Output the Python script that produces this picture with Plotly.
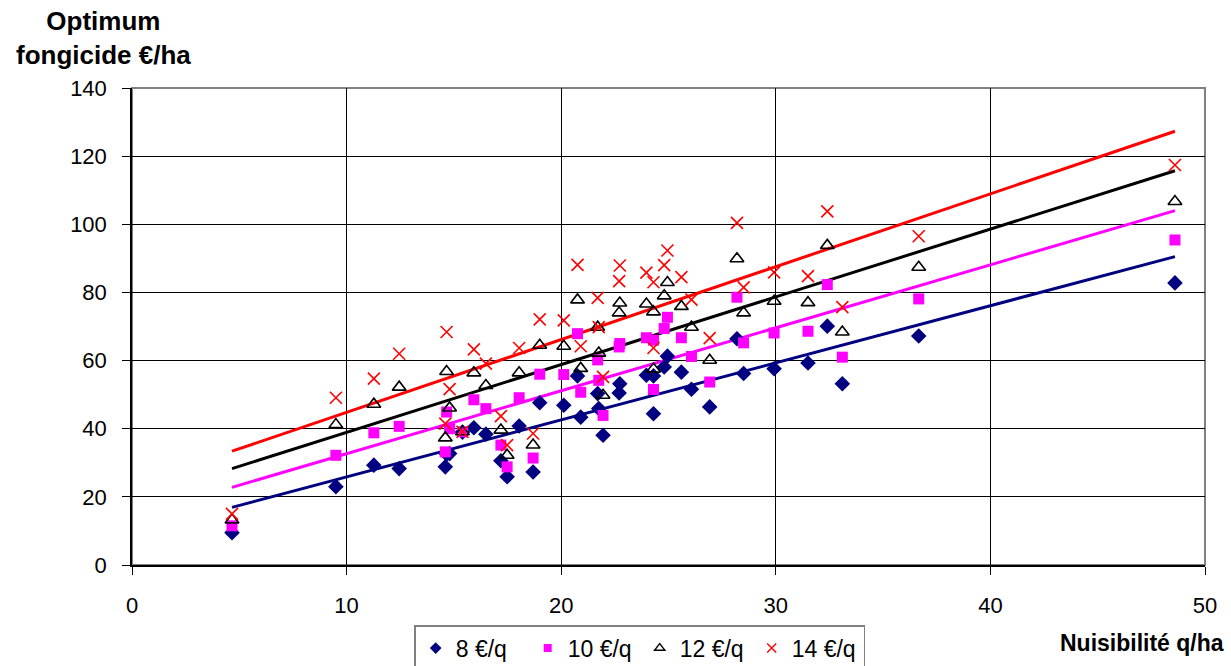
import plotly.graph_objects as go

# Nuisibilité (q/ha) for each observation
nuisibilite = [4.66, 9.5, 11.27, 12.45, 14.66, 14.8, 14.6, 15.4, 15.93, 16.49,
               17.19, 17.48, 18.04, 18.69, 19.0, 20.12, 20.76, 20.91, 21.7, 21.75,
               21.95, 22.73, 22.7, 23.97, 24.3, 24.3, 24.95, 24.8, 25.6, 26.07,
               26.92, 28.19, 28.5, 29.92, 31.5, 32.4, 33.1, 36.66, 48.6]

opt_8 = [9.5, 23.0, 29.3, 28.3, 32.5, 32.7, 28.8, 39.0, 40.3, 38.4,
         30.6, 25.9, 40.8, 27.3, 47.6, 46.9, 55.5, 43.4, 50.3, 45.9,
         38.1, 53.2, 50.5, 55.7, 55.5, 44.4, 61.3, 58.1, 56.6, 51.6,
         46.4, 66.4, 56.2, 57.6, 59.3, 70.1, 53.2, 67.2, 82.8]

opt_10 = [11.5, 32.2, 38.8, 40.7, 44.9, 40.0, 33.2, 39.1, 48.5, 45.9,
          35.2, 28.8, 49.1, 31.4, 56.0, 55.9, 67.9, 50.7, 60.2, 54.2,
          43.9, 65.0, 64.0, 66.7, 66.0, 51.5, 72.7, 69.4, 66.7, 61.2,
          53.7, 78.6, 65.2, 68.1, 68.6, 82.3, 61.0, 78.1, 95.4]

opt_12 = [13.2, 41.2, 47.2, 52.2, 56.8, 46.1, 37.3, 39.1, 56.4, 52.7,
          39.6, 32.2, 56.4, 35.2, 64.5, 64.2, 77.8, 57.7, 69.8, 62.2,
          49.8, 76.9, 74.0, 76.6, 74.3, 57.5, 82.9, 79.0, 75.9, 69.8,
          60.1, 89.9, 74.0, 77.4, 77.0, 93.8, 68.4, 87.4, 106.7]

opt_14 = [15.0, 49.1, 54.7, 62.0, 68.4, 51.6, 41.5, 39.1, 63.3, 59.1,
          43.7, 35.2, 63.7, 38.6, 72.1, 71.8, 88.1, 64.2, 78.4, 69.8,
          55.2, 87.9, 83.3, 85.8, 83.0, 63.7, 92.3, 88.0, 84.5, 77.9,
          66.6, 100.4, 81.5, 85.9, 84.8, 103.8, 75.7, 96.5, 117.4]

# Linear trendlines (start / end values)
trend_x = [4.66, 48.6]
trend_8 = [16.9, 90.5]
trend_10 = [22.8, 104.0]
trend_12 = [28.3, 115.7]
trend_14 = [33.4, 127.3]

series_names = ["8 €/q", "10 €/q", "12 €/q", "14 €/q"]

FONT = "Liberation Sans, Arial, sans-serif"
NAVY = "#000080"
MAGENTA = "#FF00FF"
BLACK = "#000000"
RED = "#FF0000"

fig = go.Figure()

# trendlines (drawn first, below markers)
for tv, col in [(trend_8, NAVY), (trend_10, MAGENTA), (trend_12, BLACK), (trend_14, RED)]:
    fig.add_trace(go.Scatter(x=trend_x, y=tv, mode="lines",
                             line=dict(color=col, width=3), showlegend=False,
                             hoverinfo="skip"))

markers = [
    dict(symbol="diamond", size=12, color=NAVY),
    dict(symbol="square", size=11, color=MAGENTA),
    dict(symbol="triangle-up-open", size=12, color=BLACK, line=dict(width=1.6, color=BLACK)),
    dict(symbol="x-thin-open", size=12, color=RED, line=dict(width=1.6, color=RED)),
]
legend_markers = [
    dict(symbol="diamond", size=9, color=NAVY),
    dict(symbol="square", size=8, color=MAGENTA),
    dict(symbol="triangle-up-open", size=9, color=BLACK, line=dict(width=1.4, color=BLACK)),
    dict(symbol="x-thin-open", size=9, color=RED, line=dict(width=1.4, color=RED)),
]

for name, vals, mk in zip(series_names, [opt_8, opt_10, opt_12, opt_14], markers):
    fig.add_trace(go.Scatter(x=nuisibilite, y=vals, mode="markers", name=name,
                             marker=mk, showlegend=False))

# legend entries with smaller symbols, as in the original
for name, mk in zip(series_names, legend_markers):
    fig.add_trace(go.Scatter(x=[None], y=[None], mode="markers", name=name,
                             marker=mk, showlegend=True, hoverinfo="skip"))

fig.update_layout(
    width=1231, height=690,
    margin=dict(l=132, r=26, t=88, b=125),
    paper_bgcolor="white", plot_bgcolor="white",
    font=dict(family=FONT, size=21, color="black"),
    showlegend=True,
    legend=dict(orientation="h", x=0.263, y=-0.126, xanchor="left", yanchor="top",
                bgcolor="white", bordercolor="#808080", borderwidth=1.5,
                font=dict(family=FONT, size=23, color="black"),
                itemwidth=30, tracegroupgap=0,
                entrywidth=67, entrywidthmode="pixels"),
    xaxis=dict(range=[0, 50], tickmode="array", tickvals=[0, 10, 20, 30, 40, 50],
               showgrid=True, gridcolor="black", gridwidth=1, zeroline=False,
               showline=True, linecolor="black", linewidth=1.5,
               ticks="outside", ticklen=8, tickcolor="black",
               ticklabelstandoff=12,
               tickfont=dict(family=FONT, size=22, color="black")),
    yaxis=dict(range=[0, 140], tickmode="array", tickvals=[0, 20, 40, 60, 80, 100, 120, 140],
               showgrid=True, gridcolor="black", gridwidth=1, zeroline=False,
               showline=True, linecolor="black", linewidth=1.5,
               ticks="outside", ticklen=8, tickcolor="black",
               ticklabelstandoff=11,
               tickfont=dict(family=FONT, size=22, color="black")),
    shapes=[dict(type="rect", xref="paper", yref="paper", x0=0, x1=1, y0=0, y1=1,
                 line=dict(color="#808080", width=2), layer="below")],
    annotations=[
        dict(text="<b>Optimum<br>fongicide €/ha</b>", xref="paper", yref="paper",
             x=-0.027, y=1.177, xanchor="center", yanchor="top", showarrow=False,
             align="center", font=dict(family=FONT, size=26, color="black")),
        dict(text="<b>Nuisibilité q/ha</b>", xref="paper", yref="paper",
             x=1.0196, y=-0.1635, xanchor="right", yanchor="middle", showarrow=False,
             font=dict(family=FONT, size=23, color="black")),
    ],
)

fig.write_html(
    "out.html",
    config={"displayModeBar": False},
    post_script=("document.body.style.margin='0px';"
                 "document.body.style.overflow='hidden';"
                 "document.documentElement.style.overflow='hidden';"),
)
